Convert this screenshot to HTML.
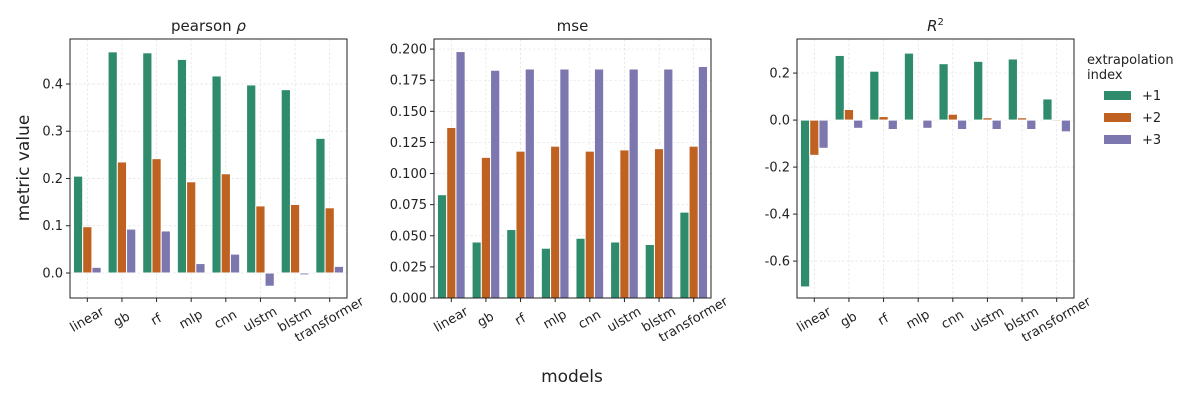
<!DOCTYPE html>
<html><head><meta charset="utf-8"><style>
body{margin:0;background:#fff;}
svg{display:block;font-family:"DejaVu Sans","Liberation Sans",sans-serif;}
</style></head><body>
<svg id="chart" width="1200" height="400"></svg>
<script>
const categories=["linear","gb","rf","mlp","cnn","ulstm","blstm","transformer"];
const seriesNames=["+1","+2","+3"];
const pearson1=[0.205,0.468,0.466,0.452,0.417,0.398,0.388,0.285];
const pearson2=[0.098,0.235,0.242,0.193,0.210,0.142,0.145,0.138];
const pearson3=[0.012,0.093,0.089,0.020,0.040,-0.028,-0.004,0.014];
const mse1=[0.083,0.045,0.055,0.040,0.048,0.045,0.043,0.069];
const mse2=[0.137,0.113,0.118,0.122,0.118,0.119,0.120,0.122];
const mse3=[0.198,0.183,0.184,0.184,0.184,0.184,0.184,0.186];
const r2_1=[-0.71,0.275,0.208,0.285,0.24,0.25,0.26,0.09];
const r2_2=[-0.15,0.045,0.015,0.002,0.025,0.01,0.01,-0.005];
const r2_3=[-0.12,-0.035,-0.04,-0.035,-0.04,-0.04,-0.04,-0.05];
const pearsonTicks=[0.0,0.1,0.2,0.3,0.4];
const mseTicks=[0.000,0.025,0.050,0.075,0.100,0.125,0.150,0.175,0.200];
const r2Ticks=[-0.6,-0.4,-0.2,0.0,0.2];
const colors=["#2e8b6c","#bf6221","#7d77b0"];
const NS="http://www.w3.org/2000/svg";
const svg=document.getElementById("chart");
function el(t,a,p){const e=document.createElementNS(NS,t);for(const k in a)e.setAttribute(k,a[k]);(p||svg).appendChild(e);return e;}
const panels=[
 {name:"pearson",x0:70,title:"pearson ρ",ymin:-0.0529,ymax:0.4952,ticks:pearsonTicks,dec:1,series:[pearson1,pearson2,pearson3]},
 {name:"mse",x0:434,title:"mse",ymin:0,ymax:0.2081,ticks:mseTicks,dec:3,series:[mse1,mse2,mse3]},
 {name:"r2",x0:797,title:"R²",ymin:-0.757,ymax:0.345,ticks:r2Ticks,dec:1,series:[r2_1,r2_2,r2_3]}
];
const topY=39,botY=298,W=277;
panels.forEach(p=>{
 const g=el("g",{});
 
 
 const y=v=>botY-(v-p.ymin)/(p.ymax-p.ymin)*(botY-topY);
 const x=i=>p.x0+(i+0.5)*W/categories.length;
 const bw=W/categories.length*0.8/3;
 p.ticks.forEach(t=>{
  el("line",{x1:p.x0,x2:p.x0+W,y1:y(t),y2:y(t),stroke:"#e2e2e2","stroke-width":0.7,"stroke-dasharray":"2.5,2"},g);
  const tl=el("text",{x:p.x0-7,y:y(t)+4.5,"text-anchor":"end","font-size":13,fill:"#222"},g);
  tl.textContent=t.toFixed(p.dec);
  
  
  el("line",{x1:p.x0-4,x2:p.x0,y1:y(t),y2:y(t),stroke:"#222"},g);
 });
 categories.forEach((c,i)=>{
  el("line",{x1:x(i),x2:x(i),y1:topY,y2:botY,stroke:"#e2e2e2","stroke-width":0.7,"stroke-dasharray":"2.5,2"},g);
  el("line",{x1:x(i),x2:x(i),y1:botY,y2:botY+4,stroke:"#222"},g);
  const cy=botY+22;
  const tl=el("text",{x:x(i),y:cy,"text-anchor":"middle","dominant-baseline":"central","font-size":13,fill:"#222",transform:`rotate(-30 ${x(i)} ${cy})`},g);
  tl.textContent=c;
  
  
 });
 p.series.forEach((s,si)=>{
  s.forEach((v,i)=>{
   const bx=x(i)-1.5*bw+si*bw;
   const y0=y(0),y1=y(v);
   const r=el("rect",{x:bx,y:Math.min(y0,y1),width:bw,height:Math.abs(y1-y0),fill:colors[si],stroke:"#fff","stroke-width":1},g);
   
   
  });
 });
 el("rect",{x:p.x0,y:topY,width:W,height:botY-topY,fill:"none",stroke:"#222","stroke-width":1},g);
 const t=el("text",{x:p.x0+W/2,y:31,"text-anchor":"middle","font-size":15,fill:"#222"},g);
 if(p.name==="r2"){
  const a=el("tspan",{"font-style":"italic"},t);a.textContent="R";
  const b=el("tspan",{dy:"-6","font-size":"10"},t);b.textContent="2";
 } else if(p.name==="pearson"){
  const a=el("tspan",{},t);a.textContent="pearson ";
  const b=el("tspan",{"font-style":"italic"},t);b.textContent="ρ";
 } else t.textContent=p.title;
 
 
});
const yl=el("text",{x:29,y:168,"text-anchor":"middle","font-size":17,fill:"#222",transform:"rotate(-90 29 168)"});
yl.textContent="metric value";


const xl=el("text",{x:572,y:382,"text-anchor":"middle","font-size":17,fill:"#222"});
xl.textContent="models";


const lg=el("g",{});


const lt1=el("text",{x:1087,y:64,"font-size":13,fill:"#222"},lg);lt1.textContent="extrapolation";
const lt2=el("text",{x:1087,y:79,"font-size":13,fill:"#222"},lg);lt2.textContent="index";
seriesNames.forEach((n,i)=>{
 const r=el("rect",{x:1104,y:91+i*22,width:27,height:9,fill:colors[i]},lg);
 
 
 const t=el("text",{x:1142,y:100+i*22,"font-size":13,fill:"#222"},lg);
 t.textContent=n;
 
 
});
</script>
</body></html>
